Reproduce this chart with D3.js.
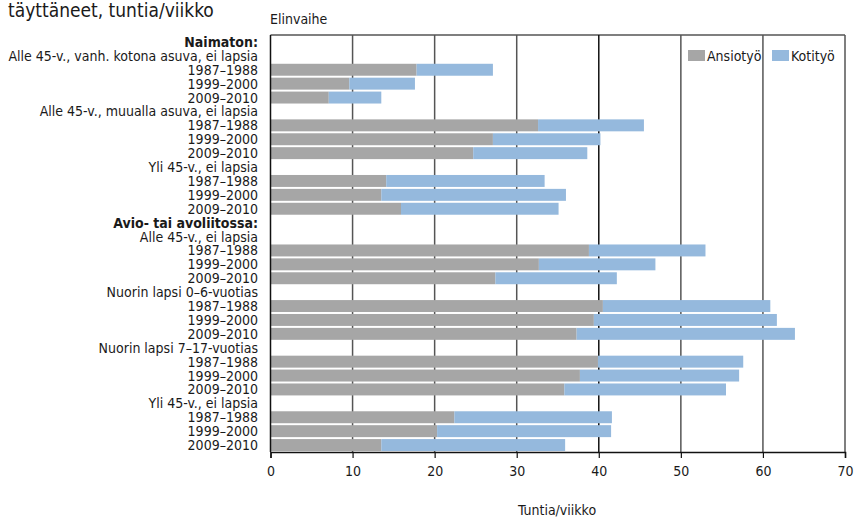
<!DOCTYPE html>
<html><head><meta charset="utf-8">
<script src="https://cdn.jsdelivr.net/npm/d3@7/dist/d3.min.js"></script>
<style>
body{margin:0;background:#fff;}
text{font-family:"DejaVu Sans Condensed","Liberation Sans Narrow","Roboto",sans-serif;fill:#1a1a1a;}
</style></head><body>
<svg id="chart" width="855" height="519"></svg>
<script>
const rowLabels = [
  "Naimaton:",
  "Alle 45-v., vanh. kotona asuva, ei lapsia",
  "1987–1988","1999–2000","2009–2010",
  "Alle 45-v., muualla asuva, ei lapsia",
  "1987–1988","1999–2000","2009–2010",
  "Yli 45-v., ei lapsia",
  "1987–1988","1999–2000","2009–2010",
  "Avio- tai avoliitossa:",
  "Alle 45-v., ei lapsia",
  "1987–1988","1999–2000","2009–2010",
  "Nuorin lapsi 0–6-vuotias",
  "1987–1988","1999–2000","2009–2010",
  "Nuorin lapsi 7–17-vuotias",
  "1987–1988","1999–2000","2009–2010",
  "Yli 45-v., ei lapsia",
  "1987–1988","1999–2000","2009–2010"
];
const boldRows = ["Naimaton:", "Avio- tai avoliitossa:"];
const ansiotyo = [null,null,17.8,9.6,7.1,null,32.6,27.1,24.7,null,14.1,13.5,15.9,
  null,null,38.8,32.7,27.4,null,40.5,39.4,37.3,null,39.9,37.7,35.8,null,22.4,20.3,13.5];
const kotityo = [null,null,9.3,8.0,6.4,null,12.9,13.1,13.9,null,19.3,22.5,19.2,
  null,null,14.2,14.2,14.8,null,20.4,22.3,26.6,null,17.7,19.4,19.7,null,19.2,21.2,22.4];
const seriesNames = ["Ansiotyö","Kotityö"];
const seriesColors = ["#a6a6a6","#95b9dd"];
const xTicks = [0,10,20,30,40,50,60,70];

const svg = d3.select("#chart");
const pLeft = 270.5, pRight = 845, pTop = 35, pBottom = 452;
const x = d3.scaleLinear().domain([0,70]).range([pLeft,pRight]);
const y = d3.scaleBand().domain(d3.range(rowLabels.length)).range([pTop,pBottom]).paddingInner(0.14).paddingOuter(0.07);

// title fragment (clipped at the top as in the source)
svg.append("text").attr("x",8).attr("y",16.5).style("font-size","19px").text("täyttäneet, tuntia/viikko");
svg.append("text").attr("x",270).attr("y",24).style("font-size","14px").text("Elinvaihe");

// top border
svg.append("line").attr("x1",pLeft).attr("x2",pRight).attr("y1",pTop).attr("y2",pTop).attr("stroke","#555").attr("stroke-width",1.5);

// gridlines
svg.append("g").selectAll("line").data(xTicks.slice(1)).join("line")
  .attr("x1",d=>x(d)).attr("x2",d=>x(d)).attr("y1",pTop).attr("y2",pBottom)
  .attr("stroke",d=>d===40?"#111":"#555").attr("stroke-width",1.5);

// bars
const rows = rowLabels.map((l,i)=>({i,a:ansiotyo[i],k:kotityo[i]})).filter(d=>d.a!==null);
svg.append("g").selectAll("rect").data(rows).join("rect")
  .attr("x",x(0)).attr("y",d=>y(d.i)).attr("height",y.bandwidth())
  .attr("width",d=>x(d.a)-x(0)).attr("fill",seriesColors[0]);
svg.append("g").selectAll("rect").data(rows).join("rect")
  .attr("x",d=>x(d.a)).attr("y",d=>y(d.i)).attr("height",y.bandwidth())
  .attr("width",d=>x(d.a+d.k)-x(d.a)).attr("fill",seriesColors[1]);

// left axis line
svg.append("line").attr("x1",pLeft).attr("x2",pLeft).attr("y1",pTop).attr("y2",pBottom).attr("stroke","#111").attr("stroke-width",1.5);

// row labels
svg.append("g").selectAll("text").data(rowLabels).join("text")
  .attr("x",258).attr("y",(d,i)=>y(i)+y.bandwidth()/2+5)
  .attr("text-anchor","end").style("font-size","14px")
  .style("font-weight",d=>boldRows.includes(d)?"bold":"normal")
  .text(d=>d);

// x axis
const xAxis = svg.append("g").attr("transform",`translate(0,${pBottom})`)
  .call(d3.axisBottom(x).tickValues(xTicks).tickSize(6).tickPadding(8).tickFormat(d3.format("d")));
xAxis.select(".domain").attr("stroke","#111").attr("stroke-width",1.5);
xAxis.selectAll(".tick line").attr("stroke","#111").attr("stroke-width",1.2);
xAxis.selectAll(".tick text").style("font-size","14px").style("font-family","DejaVu Sans Condensed, sans-serif").attr("fill","#1a1a1a");

svg.append("text").attr("x",557).attr("y",515).attr("text-anchor","middle").style("font-size","14px").text("Tuntia/viikko");

// legend
const legX = [688,772];
const leg = svg.append("g");
seriesNames.forEach((n,i)=>{
  leg.append("rect").attr("x",legX[i]).attr("y",50).attr("width",17).attr("height",11).attr("fill",seriesColors[i]);
  leg.append("text").attr("x",legX[i]+19).attr("y",61).style("font-size","14px").text(n);
});
</script>
</body></html>
